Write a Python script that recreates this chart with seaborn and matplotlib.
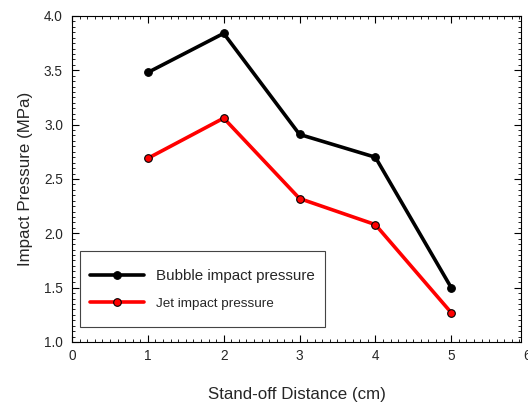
import pandas as pd
import seaborn as sns
import matplotlib.pyplot as plt
from matplotlib.patches import Rectangle
from matplotlib.ticker import MultipleLocator

# values
distance = [1, 2, 3, 4, 5]
bubble_pressure = [3.48, 3.84, 2.91, 2.70, 1.50]
jet_pressure = [2.69, 3.06, 2.32, 2.08, 1.27]
series_names = ['Bubble impact pressure', 'Jet impact pressure']

df = pd.DataFrame({
    'distance': distance * 2,
    'pressure': bubble_pressure + jet_pressure,
    'series': [series_names[0]] * len(distance) + [series_names[1]] * len(distance),
})

sns.set_style('ticks')
plt.rcParams['font.family'] = ['Liberation Sans', 'DejaVu Sans']

fig = plt.figure(figsize=(5.28, 4.05), dpi=100)
ax = fig.add_axes([0.1364, 0.1556, 0.8503, 0.805])

sns.lineplot(data=df, x='distance', y='pressure', hue='series',
             palette={series_names[0]: 'black', series_names[1]: '#ff0000'},
             marker='o', markersize=5.5, markeredgecolor='black', markeredgewidth=0.8,
             linewidth=2.6, ax=ax)

ax.set_xlim(0, 5.92)
ax.set_ylim(1.0, 4.0)
ax.xaxis.set_major_locator(MultipleLocator(1))
ax.xaxis.set_minor_locator(MultipleLocator(0.1))
ax.yaxis.set_major_locator(MultipleLocator(0.5))
ax.yaxis.set_minor_locator(MultipleLocator(0.05))
ax.yaxis.set_major_formatter(plt.FormatStrFormatter('%.1f'))
ax.tick_params(which='both', direction='in', top=True, right=True, labelsize=9.8, color='black')
ax.tick_params(which='major', length=5, width=0.8)
ax.tick_params(which='minor', length=2.5, width=0.6)
ax.tick_params(axis='x', which='major', pad=5)
ax.tick_params(axis='y', which='major', pad=6.5)
for s in ax.spines.values():
    s.set_linewidth(0.8)
    s.set_color('black')
# the "6" tick label sits past the cropped right edge
ax.annotate('6', xy=(6, 0), xycoords=ax.get_xaxis_transform(), xytext=(0, -5),
            textcoords='offset points', ha='center', va='top', fontsize=9.8,
            annotation_clip=False)

ax.set_xlabel('Stand-off Distance (cm)', fontsize=12.2, labelpad=17)
ax.set_ylabel('Impact Pressure (MPa)', fontsize=12.2, labelpad=8)

# legend box is wider-padded vertically than matplotlib allows, so draw the frame separately
ax.add_patch(Rectangle((0.018, 0.046), 0.545, 0.233, transform=ax.transAxes,
                       facecolor='white', edgecolor='#444444', linewidth=0.8, zorder=4))
leg = ax.legend(loc='center', bbox_to_anchor=(0.29, 0.16), frameon=False,
                handlelength=3.6, labelspacing=0.9, handletextpad=0.8,
                fontsize=10.9, borderaxespad=0, borderpad=0)
leg.set_zorder(5)
leg.get_texts()[0].set_fontsize(10.9)
leg.get_texts()[1].set_fontsize(9.7)

plt.savefig('out.png', dpi=100)
